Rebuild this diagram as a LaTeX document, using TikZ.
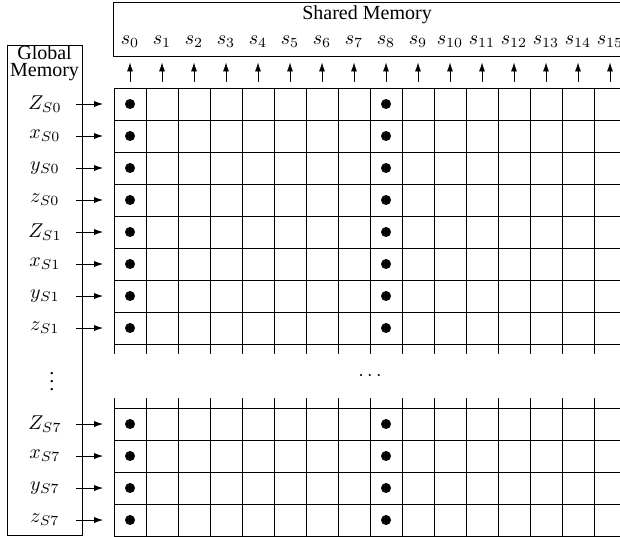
\documentclass[tikz,border=0pt]{standalone}
\usepackage{fontspec}
\setmainfont{Liberation Serif}
\usetikzlibrary{arrows.meta,positioning}
\tikzset{
  smbox/.style={draw, thin, inner sep=0pt, outer sep=0pt},
  smdot/.style={circle, fill=black, inner sep=0pt, minimum size=5pt},
  smlabel/.style={inner sep=1pt},
  smarr/.style={-{Latex[length=4.5pt,width=3pt]}, thin}
}
\begin{document}
\begin{tikzpicture}[x=16pt, y=-16pt]
  \useasboundingbox (-3.5625,-2.75) rectangle (15.8125,14.03);
  \clip (-3.5625,-2.75) rectangle (15.8125,14.03);
  % cell grid, upper and lower block
  \foreach \i in {0,...,16} {
    \draw (\i,0) -- (\i,8.3);
    \draw (\i,9.7) -- (\i,14);
  }
  \foreach \j in {0,...,8} \draw (0,\j) -- (16,\j);
  \foreach \j in {10,...,14} \draw (0,\j) -- (16,\j);
  % shared memory
  \node[smbox, anchor=north west, minimum width=266pt, minimum height=26.6pt] (shared) at (-0.03,-2.66) {};
  \node[smlabel, below=0pt of shared.north, xshift=-6pt] (sharedtxt) {Shared Memory};
  \foreach \i in {0,...,15} {
    \node[smlabel] (s\i) at (\i+.5,-1.45) {$s_{\i}$};
    \coordinate (up\i) at (\i+.5,-0.19);
    \coordinate (tip\i) at (\i+.5,-0.8);
    \draw[smarr] (up\i) -- (tip\i);
  }
  % global memory
  \node[smbox, anchor=north west, minimum width=37.5pt, minimum height=245pt] (global) at (-3.34,-1.34) {};
  \node[smlabel, align=center] (globaltxt) at (-2.17,-0.77) {Global\\[-3.5pt]Memory};
  \foreach \r/\lab in {0/Z_{S0}, 1/x_{S0}, 2/y_{S0}, 3/z_{S0}, 4/Z_{S1}, 5/x_{S1}, 6/y_{S1}, 7/z_{S1},
                       10/Z_{S7}, 11/x_{S7}, 12/y_{S7}, 13/z_{S7}} {
    \node[smlabel] (g\r) at (-2.16,\r+.5) {$\lab$};
    \coordinate (ga\r) at (-1.19,\r+.5);
    \coordinate (gb\r) at (-0.34,\r+.5);
    \draw[smarr] (ga\r) -- (gb\r);
    \node[smdot] (da\r) at (0.5,\r+.5) {};
    \node[smdot] (db\r) at (8.5,\r+.5) {};
  }
  \node[smlabel] (vdots) at (-1.94,9) {$\vdots$};
  \node[smlabel] (cdots) at (8,9) {$\cdots$};
\end{tikzpicture}
\end{document}
